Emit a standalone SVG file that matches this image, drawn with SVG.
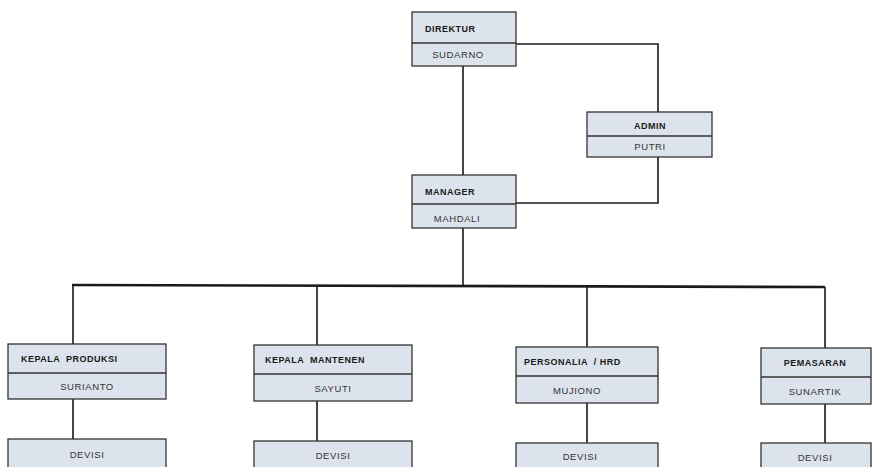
<svg xmlns="http://www.w3.org/2000/svg" width="877" height="467" viewBox="0 0 877 467">
<style>
.box{fill:#dce3ec;stroke:#333;stroke-width:1.3}
.div{stroke:#333;stroke-width:1.3}
.h{font-family:"Liberation Sans",Arial,sans-serif;font-size:9px;font-weight:bold;fill:#1a1a1a;letter-spacing:0.5px}
.n{font-family:"Liberation Sans",Arial,sans-serif;font-size:9.5px;fill:#333;text-anchor:middle;letter-spacing:0.6px}
.c{fill:none;stroke:#1a1a1a;stroke-width:1.6}
</style>
<rect width="877" height="467" fill="#ffffff"/>
<g id="connectors">
<path class="c" d="M463 66V175"/>
<path class="c" d="M516 44H658V112"/>
<path class="c" d="M658 157V203H516"/>
<path class="c" d="M463 228V285"/>
<path d="M72 285L825 287" fill="none" stroke="#1a1a1a" stroke-width="2.6"/>
<path class="c" d="M73 285V344M73 399V439"/>
<path class="c" d="M317 285V345M317 401V441"/>
<path class="c" d="M587 286V347M587 403V443"/>
<path class="c" d="M825 287V348M825 404V443"/>
</g>
<g id="direktur">
<rect class="box" x="412" y="12" width="104" height="54"/>
<line class="div" x1="412" y1="43" x2="516" y2="43"/>
<text class="h" x="425" y="32">DIREKTUR</text>
<text class="n" x="458" y="58">SUDARNO</text>
</g>
<g id="admin">
<rect class="box" x="587" y="112" width="125" height="45"/>
<line class="div" x1="587" y1="136" x2="712" y2="136"/>
<text class="h" x="650" y="129" text-anchor="middle">ADMIN</text>
<text class="n" x="650" y="150">PUTRI</text>
</g>
<g id="manager">
<rect class="box" x="412" y="175" width="104" height="53"/>
<line class="div" x1="412" y1="204" x2="516" y2="204"/>
<text class="h" x="425" y="195">MANAGER</text>
<text class="n" x="457" y="222">MAHDALI</text>
</g>
<g id="kepala-produksi">
<rect class="box" x="8" y="344" width="158" height="55"/>
<line class="div" x1="8" y1="373" x2="166" y2="373"/>
<text class="h" x="21" y="362" xml:space="preserve">KEPALA  PRODUKSI</text>
<text class="n" x="87" y="390">SURIANTO</text>
</g>
<g id="kepala-mantenen">
<rect class="box" x="254" y="345" width="158" height="56"/>
<line class="div" x1="254" y1="374" x2="412" y2="374"/>
<text class="h" x="265" y="363" xml:space="preserve">KEPALA  MANTENEN</text>
<text class="n" x="333" y="392">SAYUTI</text>
</g>
<g id="personalia">
<rect class="box" x="516" y="347" width="142" height="56"/>
<line class="div" x1="516" y1="376" x2="658" y2="376"/>
<text class="h" x="524" y="365" xml:space="preserve">PERSONALIA  / HRD</text>
<text class="n" x="577" y="394">MUJIONO</text>
</g>
<g id="pemasaran">
<rect class="box" x="761" y="348" width="110" height="56"/>
<line class="div" x1="761" y1="377" x2="871" y2="377"/>
<text class="h" x="815" y="366" text-anchor="middle">PEMASARAN</text>
<text class="n" x="815" y="395">SUNARTIK</text>
</g>
<g id="devisi-1">
<rect class="box" x="8" y="439" width="158" height="32"/>
<text class="n" x="87" y="458">DEVISI</text>
</g>
<g id="devisi-2">
<rect class="box" x="254" y="441" width="158" height="32"/>
<text class="n" x="333" y="459">DEVISI</text>
</g>
<g id="devisi-3">
<rect class="box" x="516" y="443" width="142" height="32"/>
<text class="n" x="580" y="460">DEVISI</text>
</g>
<g id="devisi-4">
<rect class="box" x="761" y="443" width="110" height="32"/>
<text class="n" x="815" y="461">DEVISI</text>
</g>
</svg>
